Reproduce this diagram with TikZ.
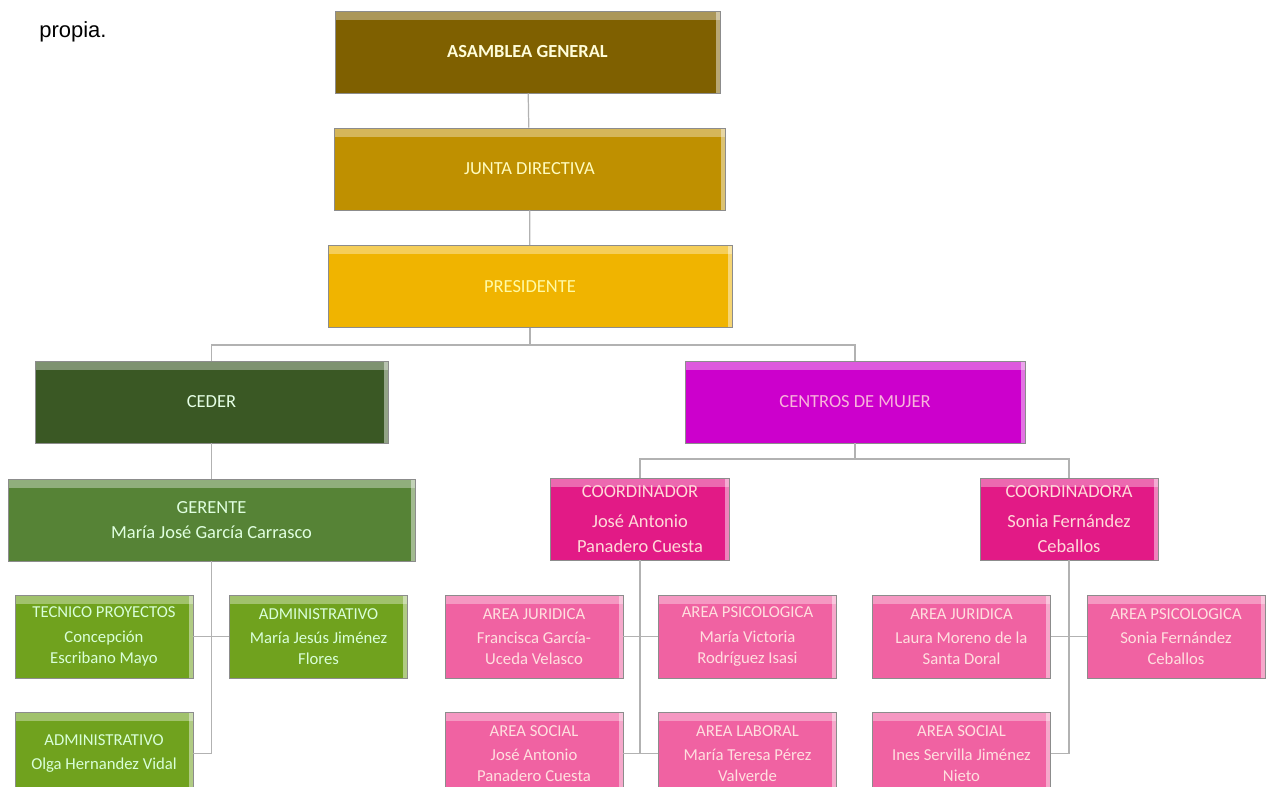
\documentclass[tikz,border=0pt]{standalone}
\usepackage{fontspec}
\setmainfont{Carlito}
\newfontfamily\notefont{Liberation Sans}

\definecolor{asamblea}{RGB}{127,96,0}
\definecolor{junta}{RGB}{191,144,0}
\definecolor{presi}{RGB}{240,180,0}
\definecolor{ceder}{RGB}{58,88,36}
\definecolor{gerente}{RGB}{86,131,54}
\definecolor{tecnico}{RGB}{112,162,30}
\definecolor{centros}{RGB}{204,0,204}
\definecolor{coord}{RGB}{226,26,134}
\definecolor{area}{RGB}{240,98,162}

\tikzset{
  cargo/.style={draw=black!45, line width=0.4pt, inner sep=2pt, align=center,
    font=\fontsize{10.5}{14}\selectfont,
    path picture={
      \fill[white,opacity=.35] (path picture bounding box.north west)
        rectangle ([yshift=-5pt]path picture bounding box.north east);
      \fill[white,opacity=.45] (path picture bounding box.north east)
        rectangle ([xshift=-2.5pt]path picture bounding box.south east);
    }},
  mayor/.style={cargo, minimum height=1.64cm},
  menor/.style={cargo, minimum width=3.56cm, minimum height=1.66cm,
    font=\fontsize{9.5}{12}\selectfont},
  enlace/.style={draw=black!30, line width=0.7pt}
}

\begin{document}
\begin{tikzpicture}[x=0.02cm, y=-0.02cm]
  \useasboundingbox (0,0) rectangle (1272,787);
  \clip (0,0) rectangle (1272,787);

  \node[font=\notefont\fontsize{12.5}{14}\selectfont, anchor=west, inner sep=0pt] (nota) at (39,32) {propia.};

  \node[mayor, fill=asamblea, text=yellow!15!white, minimum width=7.7cm, font=\bfseries\fontsize{10.5}{14}\selectfont] (asamblea) at (527.5,52) {ASAMBLEA GENERAL};
  \node[mayor, fill=junta, text=yellow!25!white, minimum width=7.82cm] (junta) at (529.5,169) {JUNTA DIRECTIVA};
  \node[mayor, fill=presi, text=yellow!35!white, minimum width=8.08cm] (presidente) at (530,286.5) {PRESIDENTE};

  \node[mayor, fill=ceder, text=green!10!white, minimum width=7.06cm] (ceder) at (211.5,402) {CEDER};
  \node[mayor, fill=centros, text=magenta!30!white, minimum width=6.8cm] (centros) at (855,402) {CENTROS DE MUJER};

  \node[mayor, fill=gerente, text=green!12!white, minimum width=8.14cm] (gerente) at (211.5,520) {GERENTE\\María José García Carrasco};
  \node[mayor, fill=coord, text=pink!60!white, minimum width=3.58cm] (coordinador) at (640,519) {COORDINADOR\\[3pt]José Antonio\\Panadero Cuesta};
  \node[mayor, fill=coord, text=pink!60!white, minimum width=3.56cm] (coordinadora) at (1069,519) {COORDINADORA\\[3pt]Sonia Fernández\\Ceballos};

  \node[menor, fill=tecnico, text=green!15!white] (tecnico) at (104,636.5) {TECNICO PROYECTOS\\[2pt]Concepción\\Escribano Mayo};
  \node[menor, fill=tecnico, text=green!15!white] (admin) at (318.5,636.5) {ADMINISTRATIVO\\[2pt]María Jesús Jiménez\\Flores};
  \node[menor, fill=tecnico, text=green!15!white] (olga) at (104,753.5) {ADMINISTRATIVO\\[2pt]Olga Hernandez Vidal};

  \node[menor, fill=area, text=pink!50!white] (juridicaA) at (534,636.5) {AREA JURIDICA\\[2pt]Francisca García-\\Uceda Velasco};
  \node[menor, fill=area, text=pink!50!white] (psicoA) at (747.5,636.5) {AREA PSICOLOGICA\\[2pt]María Victoria\\Rodríguez Isasi};
  \node[menor, fill=area, text=pink!50!white] (socialA) at (534,753.5) {AREA SOCIAL\\[2pt]José Antonio\\Panadero Cuesta};
  \node[menor, fill=area, text=pink!50!white] (laboralA) at (747.5,753.5) {AREA LABORAL\\[2pt]María Teresa Pérez\\Valverde};

  \node[menor, fill=area, text=pink!50!white] (juridicaB) at (961.5,636.5) {AREA JURIDICA\\[2pt]Laura Moreno de la\\Santa Doral};
  \node[menor, fill=area, text=pink!50!white] (psicoB) at (1176,636.5) {AREA PSICOLOGICA\\[2pt]Sonia Fernández\\Ceballos};
  \node[menor, fill=area, text=pink!50!white] (socialB) at (961.5,753.5) {AREA SOCIAL\\[2pt]Ines Servilla Jiménez\\Nieto};

  \coordinate (reparto) at (0,345);
  \coordinate (repartoB) at (0,459);

  \draw[enlace] (asamblea) -- (junta);
  \draw[enlace] (junta) -- (presidente);
  \draw[enlace] (presidente.south) -- (presidente.south |- reparto) -| (ceder.north);
  \draw[enlace] (presidente.south |- reparto) -| (centros.north);
  \draw[enlace] (ceder) -- (gerente);
  \draw[enlace] (centros.south) -- (centros.south |- repartoB) -| (coordinador.north);
  \draw[enlace] (centros.south |- repartoB) -| (coordinadora.north);

  \draw[enlace] (gerente.south) |- (olga.east);
  \draw[enlace] (tecnico.east) -- (admin.west);

  \draw[enlace] (coordinador.south) -- (coordinador.south |- socialA.east);
  \draw[enlace] (juridicaA.east) -- (psicoA.west);
  \draw[enlace] (socialA.east) -- (laboralA.west);

  \draw[enlace] (coordinadora.south) |- (socialB.east);
  \draw[enlace] (juridicaB.east) -- (psicoB.west);
\end{tikzpicture}
\end{document}
